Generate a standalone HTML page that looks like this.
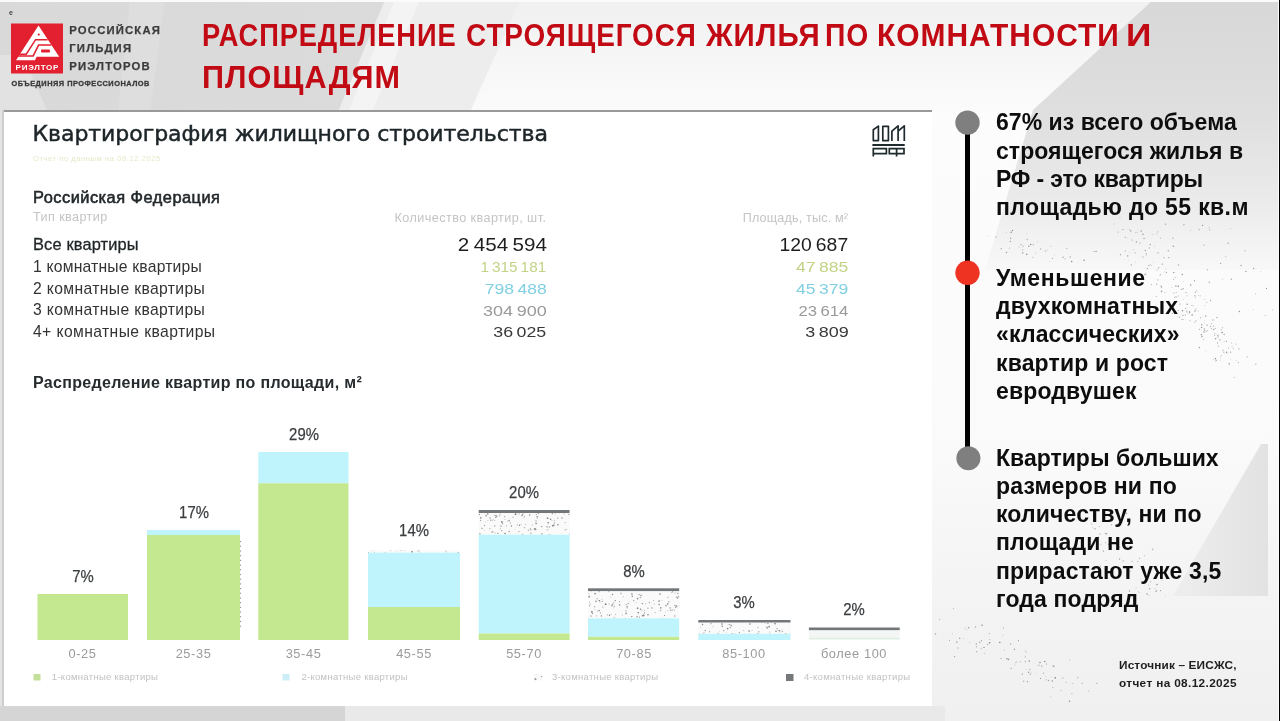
<!DOCTYPE html>
<html lang="ru">
<head>
<meta charset="utf-8">
<title>Распределение строящегося жилья по комнатности и площадям</title>
<style>
*{margin:0;padding:0;box-sizing:border-box}
html,body{width:1280px;height:721px;overflow:hidden;background:#e8e8e8}
body{position:relative;font-family:"Liberation Sans",sans-serif}
.a{position:absolute;white-space:nowrap}
svg{position:absolute;left:0;top:0;overflow:visible}
</style>
</head>
<body>
<svg width="1280" height="721" viewBox="0 0 1280 721">
<defs>
<linearGradient id="rg" x1="0" y1="0" x2="0" y2="270" gradientUnits="userSpaceOnUse">
<stop offset="0" stop-color="#d8d8d8"/><stop offset="0.4" stop-color="#dedede"/><stop offset="0.75" stop-color="#ebebeb"/><stop offset="1" stop-color="#f8f8f8"/>
</linearGradient>
<linearGradient id="tri" x1="1173" y1="0" x2="1268" y2="0" gradientUnits="userSpaceOnUse">
<stop offset="0" stop-color="#eeeeee"/><stop offset="1" stop-color="#e2e2e2"/>
</linearGradient>
<linearGradient id="pb" x1="0" y1="0" x2="0" y2="721" gradientUnits="userSpaceOnUse">
<stop offset="0" stop-color="#fdfdfd"/><stop offset="0.62" stop-color="#fafafa"/><stop offset="0.85" stop-color="#f3f3f3"/><stop offset="1" stop-color="#f0f0f0"/>
</linearGradient>
<linearGradient id="hm" x1="0" y1="0" x2="0" y2="112" gradientUnits="userSpaceOnUse">
<stop offset="0" stop-color="#f0f0f0"/><stop offset="0.5" stop-color="#f6f6f6"/><stop offset="1" stop-color="#fbfbfb"/>
</linearGradient>
<linearGradient id="lg" x1="0" y1="0" x2="385" y2="0" gradientUnits="userSpaceOnUse">
<stop offset="0" stop-color="#d9d9d9"/><stop offset="1" stop-color="#dbdbdb"/>
</linearGradient>
</defs>
<rect width="1280" height="721" fill="url(#pb)"/>
<rect width="1280" height="112" fill="url(#hm)"/>
<polygon points="385,0 520,0 470,112 338,112" fill="#ededed"/>
<polygon points="395,0 420,0 372,112 348,112" fill="#f4f4f4"/>
<polygon points="0,0 385,0 338,112 0,112" fill="url(#lg)"/>
<polygon points="0,55 22,55 48,112 0,112" fill="#e4e4e4" opacity="0.8"/>
<polygon points="130,0 165,0 150,112 118,112" fill="#dedede" opacity="0.8"/>
<polygon points="1153,0 1278,0 1278,270 985,270 1033,110" fill="url(#rg)"/>
<polygon points="1261,444 1268,444 1268,596 1173,596" fill="url(#tri)"/>
<rect x="0" y="706" width="345" height="15" fill="#d5d5d5"/>
<rect x="345" y="706" width="600" height="15" fill="#e9e9e9"/>
<rect x="0" y="110" width="2" height="596" fill="#e4e4e4"/><rect x="2" y="110" width="2" height="596" fill="#cecece"/>
<rect x="0" y="0" width="1280" height="2" fill="#fbfbfb"/>
<rect x="1278" y="0" width="1" height="721" fill="#fafafa"/>
<rect x="1279" y="0" width="1" height="721" fill="#000"/>
</svg>
<svg width="1280" height="100" viewBox="0 0 1280 100">
<rect x="11" y="23.5" width="52" height="50" fill="#e2202f"/>
<polygon points="38.5,25.6 59.2,56.8 36.6,56.8 35,60.2 16,60.2" fill="#fff"/>
<polyline points="47.6,39.7 35.6,39.7 26.2,54.2 18.6,54.2" stroke="#e2202f" stroke-width="1.5" fill="none"/>
<polyline points="51.3,45.1 38.6,45.1 33.2,55.9 17.6,55.9" stroke="#e2202f" stroke-width="1.5" fill="none"/>
<circle cx="38.8" cy="34.6" r="1.1" fill="#e2202f"/>
<rect x="41" y="49.6" width="9" height="2.9" rx="1" fill="#e2202f"/>
<text x="15.6" y="69.6" font-family="Liberation Sans, sans-serif" font-weight="bold" font-size="8" letter-spacing="0.75" fill="#fff">РИЭЛТОР</text>
<text x="9" y="14.5" font-family="Liberation Sans, sans-serif" font-weight="bold" font-size="7" fill="#444">е</text>
</svg>
<div class="a" style="top:25.04px;font:bold 11.3px/11.3px 'Liberation Sans',sans-serif;color:#3c3c3c;letter-spacing:1.17px;left:69.30px;-webkit-text-stroke:0.25px #3c3c3c;">РОССИЙСКАЯ</div>
<div class="a" style="top:42.94px;font:bold 11.3px/11.3px 'Liberation Sans',sans-serif;color:#3c3c3c;letter-spacing:1.17px;left:69.30px;-webkit-text-stroke:0.25px #3c3c3c;">ГИЛЬДИЯ</div>
<div class="a" style="top:60.94px;font:bold 11.3px/11.3px 'Liberation Sans',sans-serif;color:#3c3c3c;letter-spacing:1.17px;left:69.30px;-webkit-text-stroke:0.25px #3c3c3c;">РИЭЛТОРОВ</div>
<div class="a" style="top:79.54px;font:bold 7.4px/7.4px 'Liberation Sans',sans-serif;color:#3a3a3a;letter-spacing:0.49px;left:11.50px;-webkit-text-stroke:0.3px #3a3a3a;">ОБЪЕДИНЯЯ ПРОФЕССИОНАЛОВ</div>
<div class="a" style="top:19.97px;font:bold 31px/31px 'Liberation Sans',sans-serif;color:#c10a14;letter-spacing:1.0px;left:201.57px;transform:scaleX(0.8803);transform-origin:left center;">РАСПРЕДЕЛЕНИЕ</div>
<div class="a" style="top:19.97px;font:bold 31px/31px 'Liberation Sans',sans-serif;color:#c10a14;letter-spacing:1.0px;left:465.77px;transform:scaleX(0.9016);transform-origin:left center;">СТРОЯЩЕГОСЯ</div>
<div class="a" style="top:19.97px;font:bold 31px/31px 'Liberation Sans',sans-serif;color:#c10a14;letter-spacing:1.0px;left:705.97px;transform:scaleX(0.9515);transform-origin:left center;">ЖИЛЬЯ</div>
<div class="a" style="top:19.97px;font:bold 31px/31px 'Liberation Sans',sans-serif;color:#c10a14;letter-spacing:1.0px;left:825.37px;transform:scaleX(0.9137);transform-origin:left center;">ПО</div>
<div class="a" style="top:19.97px;font:bold 31px/31px 'Liberation Sans',sans-serif;color:#c10a14;letter-spacing:1.0px;left:877.37px;transform:scaleX(0.9657);transform-origin:left center;">КОМНАТНОСТИ</div>
<div class="a" style="top:19.97px;font:bold 31px/31px 'Liberation Sans',sans-serif;color:#c10a14;left:1125.77px;transform:scaleX(1.1395);transform-origin:left center;">И</div>
<div class="a" style="top:62.17px;font:bold 31px/31px 'Liberation Sans',sans-serif;color:#c10a14;letter-spacing:1.0px;left:201.57px;transform:scaleX(0.9876);transform-origin:left center;">ПЛОЩАДЯМ</div>
<div class="a" style="left:4px;top:110px;width:928px;height:596px;background:#fff;border-top:2px solid #9a9a9a"></div>
<div class="a" style="top:122.99px;font:normal 22px/22px 'DejaVu Sans','Liberation Sans',sans-serif;color:#1d2529;letter-spacing:-0.05px;left:32.50px;-webkit-text-stroke:0.5px #1d2529;">Квартирография жилищного строительства</div>
<div class="a" style="top:155.16px;font:normal 7.5px/7.5px 'Liberation Sans',sans-serif;color:#e6e8c6;letter-spacing:0.6px;left:33.00px;">Отчет по данным на 08.12.2025</div>
<svg width="1280" height="200" viewBox="0 0 1280 200">
<g fill="none" stroke="#1f2a2e" stroke-width="1.7" stroke-linejoin="round">
<path d="M873.3,140.6 V129.8 L878.4,126.1 V140.6 Z"/>
<path d="M882.8,140.6 V126.3 H888.4 V140.6 Z"/>
<path d="M891.9,141 V131.2 L898.1,125.9 V141 M898.1,131.2 L904.3,125.9 V141"/>
</g>
<rect x="872.4" y="144" width="32.3" height="2" fill="#1f2a2e"/>
<g fill="none" stroke="#1f2a2e" stroke-width="1.7">
<path d="M873.3,156.6 V148.6 H886.4 V153.6 H873.3"/>
<path d="M889.3,148.6 H904 V153.6 H889.3 Z M896.6,148.6 V156.6"/>
</g>
</svg>
<div class="a" style="top:188.53px;font:normal 16.4px/16.4px 'Liberation Sans',sans-serif;color:#23282b;letter-spacing:0.48px;left:33.00px;-webkit-text-stroke:0.55px #23282b;">Российская Федерация</div>
<div class="a" style="top:211.24px;font:normal 12.6px/12.6px 'Liberation Sans',sans-serif;color:#c4c4c4;letter-spacing:0.41px;left:33.00px;">Тип квартир</div>
<div class="a" style="top:211.74px;font:normal 12.6px/12.6px 'Liberation Sans',sans-serif;color:#c4c4c4;letter-spacing:0.44px;right:733.60px;">Количество квартир, шт.</div>
<div class="a" style="top:211.74px;font:normal 12.6px/12.6px 'Liberation Sans',sans-serif;color:#c4c4c4;letter-spacing:0.17px;right:431.80px;">Площадь, тыс. м²</div>
<div class="a" style="top:236.33px;font:normal 16.4px/16.4px 'Liberation Sans',sans-serif;color:#1f2427;letter-spacing:0.15px;left:33.00px;-webkit-text-stroke:0.3px #1f2427;">Все квартиры</div>
<div class="a" style="top:235.16px;font:normal 19.2px/19.2px 'Liberation Sans',sans-serif;color:#1e1e1e;right:733.34px;transform:scaleX(1.074);transform-origin:right center;word-spacing:-1.2px;">2 454 594</div>
<div class="a" style="top:235.16px;font:normal 19.2px/19.2px 'Liberation Sans',sans-serif;color:#1e1e1e;right:431.69px;transform:scaleX(1.009);transform-origin:right center;word-spacing:-1.2px;">120 687</div>
<div class="a" style="top:258.92px;font:normal 15.7px/15.7px 'Liberation Sans',sans-serif;color:#333;letter-spacing:0.2px;left:33.00px;">1 комнатные квартиры</div>
<div class="a" style="top:259.14px;font:normal 15.2px/15.2px 'Liberation Sans',sans-serif;color:#c2d385;right:733.39px;transform:scaleX(1.008);transform-origin:right center;word-spacing:-1.2px;">1 315 181</div>
<div class="a" style="top:259.14px;font:normal 15.2px/15.2px 'Liberation Sans',sans-serif;color:#c2d385;right:431.58px;transform:scaleX(1.153);transform-origin:right center;word-spacing:-1.2px;">47 885</div>
<div class="a" style="top:280.62px;font:normal 15.7px/15.7px 'Liberation Sans',sans-serif;color:#333;letter-spacing:0.36px;left:33.00px;">2 комнатные квартиры</div>
<div class="a" style="top:280.94px;font:normal 15.2px/15.2px 'Liberation Sans',sans-serif;color:#80d0e2;right:733.28px;transform:scaleX(1.154);transform-origin:right center;word-spacing:-1.2px;">798 488</div>
<div class="a" style="top:280.94px;font:normal 15.2px/15.2px 'Liberation Sans',sans-serif;color:#80d0e2;right:431.58px;transform:scaleX(1.153);transform-origin:right center;word-spacing:-1.2px;">45 379</div>
<div class="a" style="top:302.32px;font:normal 15.7px/15.7px 'Liberation Sans',sans-serif;color:#333;letter-spacing:0.36px;left:33.00px;">3 комнатные квартиры</div>
<div class="a" style="top:302.74px;font:normal 15.2px/15.2px 'Liberation Sans',sans-serif;color:#9a9a9a;right:733.25px;transform:scaleX(1.186);transform-origin:right center;word-spacing:-1.2px;">304 900</div>
<div class="a" style="top:302.74px;font:normal 15.2px/15.2px 'Liberation Sans',sans-serif;color:#9a9a9a;right:431.62px;transform:scaleX(1.1);transform-origin:right center;word-spacing:-1.2px;">23 614</div>
<div class="a" style="top:324.02px;font:normal 15.7px/15.7px 'Liberation Sans',sans-serif;color:#333;letter-spacing:0.4px;left:33.00px;">4+ комнатные квартиры</div>
<div class="a" style="top:324.44px;font:normal 15.2px/15.2px 'Liberation Sans',sans-serif;color:#383838;right:733.26px;transform:scaleX(1.17);transform-origin:right center;word-spacing:-1.2px;">36 025</div>
<div class="a" style="top:324.44px;font:normal 15.2px/15.2px 'Liberation Sans',sans-serif;color:#383838;right:431.55px;transform:scaleX(1.183);transform-origin:right center;word-spacing:-1.2px;">3 809</div>
<div class="a" style="top:374.66px;font:bold 16px/16px 'Liberation Sans',sans-serif;color:#262b2e;letter-spacing:0.33px;left:33.00px;">Распределение квартир по площади, м²</div>
<svg width="1280" height="721" viewBox="0 0 1280 721"><defs><pattern id="spk" width="90" height="30" patternUnits="userSpaceOnUse"><rect width="90" height="30" fill="#fafafa"/><circle cx="29.1" cy="4.5" r="0.74" fill="#7a7a7a"/><circle cx="73.9" cy="2.8" r="0.71" fill="#bbbbbb"/><circle cx="19.3" cy="2.6" r="0.64" fill="#8a8a8a"/><circle cx="8.2" cy="12.7" r="0.82" fill="#7a7a7a"/><circle cx="85.3" cy="18.9" r="0.71" fill="#7a7a7a"/><circle cx="51.9" cy="11.9" r="0.89" fill="#7a7a7a"/><circle cx="50.1" cy="4.0" r="0.64" fill="#bbbbbb"/><circle cx="10.6" cy="9.3" r="0.82" fill="#8a8a8a"/><circle cx="9.3" cy="17.1" r="0.53" fill="#7a7a7a"/><circle cx="49.3" cy="1.9" r="0.48" fill="#8a8a8a"/><circle cx="44.7" cy="16.0" r="0.80" fill="#aaaaaa"/><circle cx="52.7" cy="13.6" r="0.58" fill="#8a8a8a"/><circle cx="62.9" cy="7.3" r="0.71" fill="#bbbbbb"/><circle cx="44.6" cy="10.3" r="0.65" fill="#bbbbbb"/><circle cx="88.2" cy="3.5" r="0.64" fill="#9a9a9a"/><circle cx="13.7" cy="14.7" r="0.47" fill="#c8c8c8"/><circle cx="7.0" cy="16.7" r="0.81" fill="#9a9a9a"/><circle cx="30.6" cy="10.5" r="0.67" fill="#aaaaaa"/><circle cx="6.2" cy="2.8" r="0.57" fill="#c8c8c8"/><circle cx="59.8" cy="1.8" r="0.77" fill="#c8c8c8"/><circle cx="52.0" cy="20.4" r="0.65" fill="#c8c8c8"/><circle cx="34.7" cy="20.1" r="0.46" fill="#aaaaaa"/><circle cx="32.0" cy="18.3" r="0.67" fill="#8a8a8a"/><circle cx="69.1" cy="3.9" r="0.56" fill="#aaaaaa"/><circle cx="82.5" cy="14.9" r="0.52" fill="#aaaaaa"/><circle cx="49.4" cy="26.5" r="0.82" fill="#bbbbbb"/><circle cx="25.1" cy="12.5" r="0.61" fill="#aaaaaa"/><circle cx="86.2" cy="4.5" r="0.53" fill="#8a8a8a"/><circle cx="59.3" cy="0.4" r="0.82" fill="#8a8a8a"/><circle cx="23.6" cy="0.1" r="0.64" fill="#9a9a9a"/><circle cx="54.9" cy="9.6" r="0.51" fill="#bbbbbb"/><circle cx="85.5" cy="19.6" r="0.78" fill="#aaaaaa"/><circle cx="81.0" cy="23.4" r="0.84" fill="#bbbbbb"/><circle cx="35.3" cy="12.0" r="0.50" fill="#c8c8c8"/><circle cx="36.0" cy="5.7" r="0.89" fill="#aaaaaa"/><circle cx="14.6" cy="10.2" r="0.47" fill="#7a7a7a"/><circle cx="51.0" cy="16.1" r="0.88" fill="#bbbbbb"/><circle cx="2.3" cy="26.2" r="0.73" fill="#8a8a8a"/><circle cx="57.1" cy="28.7" r="0.72" fill="#aaaaaa"/><circle cx="11.1" cy="25.5" r="0.90" fill="#aaaaaa"/><circle cx="43.2" cy="9.4" r="0.51" fill="#c8c8c8"/><circle cx="30.8" cy="7.9" r="0.82" fill="#8a8a8a"/><circle cx="46.5" cy="6.2" r="0.88" fill="#9a9a9a"/><circle cx="13.2" cy="16.3" r="0.46" fill="#bbbbbb"/><circle cx="26.8" cy="19.3" r="0.49" fill="#9a9a9a"/><circle cx="46.7" cy="27.2" r="0.61" fill="#8a8a8a"/><circle cx="47.9" cy="23.4" r="0.60" fill="#8a8a8a"/><circle cx="55.2" cy="23.7" r="0.79" fill="#8a8a8a"/><circle cx="72.5" cy="24.5" r="0.78" fill="#8a8a8a"/><circle cx="18.0" cy="14.8" r="0.78" fill="#7a7a7a"/><circle cx="71.1" cy="14.2" r="0.54" fill="#bbbbbb"/><circle cx="86.1" cy="13.4" r="0.87" fill="#9a9a9a"/><circle cx="86.0" cy="10.9" r="0.55" fill="#8a8a8a"/><circle cx="42.3" cy="10.1" r="0.67" fill="#bbbbbb"/><circle cx="75.6" cy="14.4" r="0.74" fill="#c8c8c8"/><circle cx="7.6" cy="19.8" r="0.86" fill="#c8c8c8"/><circle cx="67.5" cy="14.3" r="0.53" fill="#c8c8c8"/><circle cx="29.9" cy="24.0" r="0.89" fill="#aaaaaa"/><circle cx="41.7" cy="22.3" r="0.49" fill="#8a8a8a"/><circle cx="15.3" cy="3.8" r="0.52" fill="#aaaaaa"/><circle cx="72.6" cy="4.4" r="0.82" fill="#aaaaaa"/><circle cx="59.2" cy="10.5" r="0.70" fill="#8a8a8a"/><circle cx="1.9" cy="24.0" r="0.78" fill="#7a7a7a"/><circle cx="47.4" cy="28.0" r="0.65" fill="#8a8a8a"/><circle cx="74.4" cy="6.3" r="0.56" fill="#9a9a9a"/><circle cx="45.1" cy="22.9" r="0.60" fill="#bbbbbb"/><circle cx="37.7" cy="3.9" r="0.86" fill="#9a9a9a"/><circle cx="80.8" cy="19.9" r="0.82" fill="#bbbbbb"/><circle cx="37.9" cy="27.5" r="0.68" fill="#bbbbbb"/><circle cx="13.7" cy="15.3" r="0.84" fill="#8a8a8a"/><circle cx="54.8" cy="23.3" r="0.52" fill="#8a8a8a"/><circle cx="42.6" cy="21.8" r="0.70" fill="#9a9a9a"/><circle cx="61.4" cy="15.9" r="0.67" fill="#7a7a7a"/><circle cx="79.5" cy="1.7" r="0.54" fill="#7a7a7a"/><circle cx="69.5" cy="15.2" r="0.70" fill="#7a7a7a"/><circle cx="39.9" cy="18.4" r="0.68" fill="#bbbbbb"/><circle cx="17.9" cy="8.3" r="0.68" fill="#aaaaaa"/><circle cx="45.7" cy="7.4" r="0.69" fill="#9a9a9a"/><circle cx="83.1" cy="26.8" r="0.54" fill="#aaaaaa"/><circle cx="12.3" cy="3.6" r="0.65" fill="#7a7a7a"/><circle cx="60.4" cy="12.9" r="0.55" fill="#9a9a9a"/><circle cx="70.6" cy="26.9" r="0.52" fill="#c8c8c8"/><circle cx="57.9" cy="11.0" r="0.56" fill="#8a8a8a"/><circle cx="87.1" cy="6.6" r="0.88" fill="#aaaaaa"/><circle cx="79.6" cy="4.9" r="0.75" fill="#8a8a8a"/><circle cx="14.5" cy="12.9" r="0.68" fill="#9a9a9a"/><circle cx="37.9" cy="10.7" r="0.49" fill="#9a9a9a"/><circle cx="1.8" cy="16.6" r="0.65" fill="#7a7a7a"/><circle cx="34.6" cy="15.5" r="0.58" fill="#7a7a7a"/><circle cx="10.2" cy="27.6" r="0.55" fill="#7a7a7a"/><circle cx="7.6" cy="8.2" r="0.86" fill="#8a8a8a"/><circle cx="24.3" cy="3.9" r="0.64" fill="#c8c8c8"/><circle cx="73.7" cy="7.8" r="0.52" fill="#bbbbbb"/><circle cx="51.4" cy="21.0" r="0.49" fill="#7a7a7a"/><circle cx="72.0" cy="5.5" r="0.85" fill="#9a9a9a"/><circle cx="84.5" cy="19.0" r="0.81" fill="#7a7a7a"/><circle cx="54.7" cy="6.7" r="0.57" fill="#7a7a7a"/><circle cx="40.8" cy="10.2" r="0.70" fill="#9a9a9a"/><circle cx="56.0" cy="1.3" r="0.77" fill="#7a7a7a"/><circle cx="87.2" cy="7.9" r="0.53" fill="#9a9a9a"/><circle cx="56.6" cy="15.9" r="0.54" fill="#aaaaaa"/><circle cx="45.0" cy="5.3" r="0.61" fill="#7a7a7a"/><circle cx="89.5" cy="1.1" r="0.46" fill="#bbbbbb"/><circle cx="49.6" cy="5.7" r="0.66" fill="#aaaaaa"/><circle cx="9.6" cy="24.6" r="0.64" fill="#aaaaaa"/><circle cx="49.1" cy="26.7" r="0.89" fill="#9a9a9a"/><circle cx="61.9" cy="29.5" r="0.60" fill="#c8c8c8"/><circle cx="65.6" cy="4.2" r="0.90" fill="#7a7a7a"/><circle cx="75.3" cy="0.4" r="0.73" fill="#9a9a9a"/><circle cx="38.8" cy="1.7" r="0.75" fill="#aaaaaa"/><circle cx="78.3" cy="20.1" r="0.58" fill="#8a8a8a"/><circle cx="62.3" cy="1.4" r="0.53" fill="#9a9a9a"/><circle cx="40.1" cy="7.9" r="0.88" fill="#bbbbbb"/><circle cx="29.1" cy="1.0" r="0.85" fill="#8a8a8a"/><circle cx="32.1" cy="0.0" r="0.62" fill="#aaaaaa"/><circle cx="25.1" cy="19.7" r="0.56" fill="#7a7a7a"/><circle cx="8.2" cy="24.5" r="0.51" fill="#bbbbbb"/><circle cx="3.8" cy="0.7" r="0.59" fill="#8a8a8a"/><circle cx="7.6" cy="28.7" r="0.83" fill="#8a8a8a"/><circle cx="59.2" cy="21.5" r="0.85" fill="#aaaaaa"/><circle cx="68.8" cy="21.6" r="0.67" fill="#9a9a9a"/><circle cx="65.2" cy="19.3" r="0.47" fill="#c8c8c8"/><circle cx="80.3" cy="18.8" r="0.78" fill="#bbbbbb"/><circle cx="12.5" cy="15.7" r="0.68" fill="#7a7a7a"/><circle cx="74.4" cy="17.5" r="0.85" fill="#c8c8c8"/><circle cx="86.0" cy="19.3" r="0.49" fill="#7a7a7a"/><circle cx="12.0" cy="10.8" r="0.50" fill="#aaaaaa"/><circle cx="50.3" cy="18.8" r="0.73" fill="#c8c8c8"/><circle cx="22.0" cy="7.9" r="0.66" fill="#7a7a7a"/><circle cx="67.3" cy="15.1" r="0.69" fill="#c8c8c8"/></pattern></defs><rect x="37.5" y="594" width="90.5" height="46.0" fill="#c3e88f"/><rect x="147" y="530" width="93.0" height="5.0" fill="#c0f4fd"/><rect x="147" y="535" width="93.0" height="105.0" fill="#c3e88f"/><rect x="258.3" y="452" width="90.2" height="31.3" fill="#c0f4fd"/><rect x="258.3" y="483.3" width="90.2" height="156.7" fill="#c3e88f"/><rect x="368" y="550.5" width="92.0" height="2.2" fill="url(#spk)"/><rect x="368" y="552.7" width="92.0" height="54.3" fill="#c0f4fd"/><rect x="368" y="607" width="92.0" height="33.0" fill="#c3e88f"/><rect x="478.7" y="510" width="90.9" height="3.0" fill="#737779"/><rect x="478.7" y="513" width="90.9" height="21.7" fill="url(#spk)"/><rect x="478.7" y="534.7" width="90.9" height="98.8" fill="#c0f4fd"/><rect x="478.7" y="633.5" width="90.9" height="6.5" fill="#c3e88f"/><rect x="588" y="588.3" width="91.2" height="3.0" fill="#737779"/><rect x="588" y="591.3" width="91.2" height="27.0" fill="url(#spk)"/><rect x="588" y="618.3" width="91.2" height="18.5" fill="#c0f4fd"/><rect x="588" y="636.8" width="91.2" height="3.2" fill="#c3e88f"/><rect x="698.3" y="620" width="92.2" height="2.7" fill="#737779"/><rect x="698.3" y="622.7" width="92.2" height="11.1" fill="url(#spk)"/><rect x="698.3" y="633.8" width="92.2" height="6.2" fill="#c0f4fd"/><rect x="808.9" y="627.5" width="90.8" height="2.9" fill="#737779"/><rect x="808.9" y="630.4" width="90.8" height="7.4" fill="#f4f6f6"/><rect x="808.9" y="637.8" width="90.8" height="1.2" fill="#dcefe0"/><rect x="808.9" y="639" width="90.8" height="1.0" fill="#eef6ef"/><line x1="240.6" y1="541" x2="240.6" y2="628" stroke="#8c8c8c" stroke-width="1" stroke-dasharray="1.2 3.5"/><rect x="33.5" y="674" width="7" height="6.5" fill="#c3e09a"/><rect x="282.5" y="674" width="7" height="6.5" fill="#cdeef8"/><rect x="534.5" y="674" width="8" height="6.5" fill="url(#spk)"/><rect x="786" y="674" width="7.5" height="7" fill="#75797b"/></svg>
<div class="a" style="top:569.16px;font:normal 16px/16px 'Liberation Sans',sans-serif;color:#3b3e40;left:83.00px;transform:translateX(-50%) scaleX(0.93);-webkit-text-stroke:0.25px #3b3e40;">7%</div>
<div class="a" style="top:505.26px;font:normal 16px/16px 'Liberation Sans',sans-serif;color:#3b3e40;left:193.60px;transform:translateX(-50%) scaleX(0.93);-webkit-text-stroke:0.25px #3b3e40;">17%</div>
<div class="a" style="top:426.66px;font:normal 16px/16px 'Liberation Sans',sans-serif;color:#3b3e40;left:303.50px;transform:translateX(-50%) scaleX(0.93);-webkit-text-stroke:0.25px #3b3e40;">29%</div>
<div class="a" style="top:522.96px;font:normal 16px/16px 'Liberation Sans',sans-serif;color:#3b3e40;left:413.50px;transform:translateX(-50%) scaleX(0.93);-webkit-text-stroke:0.25px #3b3e40;">14%</div>
<div class="a" style="top:485.26px;font:normal 16px/16px 'Liberation Sans',sans-serif;color:#3b3e40;left:524.00px;transform:translateX(-50%) scaleX(0.93);-webkit-text-stroke:0.25px #3b3e40;">20%</div>
<div class="a" style="top:564.26px;font:normal 16px/16px 'Liberation Sans',sans-serif;color:#3b3e40;left:634.00px;transform:translateX(-50%) scaleX(0.93);-webkit-text-stroke:0.25px #3b3e40;">8%</div>
<div class="a" style="top:594.76px;font:normal 16px/16px 'Liberation Sans',sans-serif;color:#3b3e40;left:744.40px;transform:translateX(-50%) scaleX(0.93);-webkit-text-stroke:0.25px #3b3e40;">3%</div>
<div class="a" style="top:601.86px;font:normal 16px/16px 'Liberation Sans',sans-serif;color:#3b3e40;left:854.40px;transform:translateX(-50%) scaleX(0.93);-webkit-text-stroke:0.25px #3b3e40;">2%</div>
<div class="a" style="top:647.87px;font:normal 12.8px/12.8px 'Liberation Sans',sans-serif;color:#9b9b9b;left:82.50px;transform:translateX(-50%);letter-spacing:0.6px;">0-25</div>
<div class="a" style="top:647.87px;font:normal 12.8px/12.8px 'Liberation Sans',sans-serif;color:#9b9b9b;left:193.50px;transform:translateX(-50%);letter-spacing:0.6px;">25-35</div>
<div class="a" style="top:647.87px;font:normal 12.8px/12.8px 'Liberation Sans',sans-serif;color:#9b9b9b;left:303.50px;transform:translateX(-50%);letter-spacing:0.6px;">35-45</div>
<div class="a" style="top:647.87px;font:normal 12.8px/12.8px 'Liberation Sans',sans-serif;color:#9b9b9b;left:414.00px;transform:translateX(-50%);letter-spacing:0.6px;">45-55</div>
<div class="a" style="top:647.87px;font:normal 12.8px/12.8px 'Liberation Sans',sans-serif;color:#9b9b9b;left:524.00px;transform:translateX(-50%);letter-spacing:0.6px;">55-70</div>
<div class="a" style="top:647.87px;font:normal 12.8px/12.8px 'Liberation Sans',sans-serif;color:#9b9b9b;left:634.00px;transform:translateX(-50%);letter-spacing:0.6px;">70-85</div>
<div class="a" style="top:647.87px;font:normal 12.8px/12.8px 'Liberation Sans',sans-serif;color:#9b9b9b;left:744.00px;transform:translateX(-50%);letter-spacing:0.6px;">85-100</div>
<div class="a" style="top:647.87px;font:normal 12.8px/12.8px 'Liberation Sans',sans-serif;color:#9b9b9b;left:854.00px;transform:translateX(-50%);letter-spacing:0.6px;">более 100</div>
<div class="a" style="top:672.36px;font:normal 9.5px/9.5px 'Liberation Sans',sans-serif;color:#c2c2c2;letter-spacing:0.3px;left:51.80px;">1-комнатные квартиры</div>
<div class="a" style="top:672.36px;font:normal 9.5px/9.5px 'Liberation Sans',sans-serif;color:#c2c2c2;letter-spacing:0.3px;left:301.40px;">2-комнатные квартиры</div>
<div class="a" style="top:672.36px;font:normal 9.5px/9.5px 'Liberation Sans',sans-serif;color:#c2c2c2;letter-spacing:0.3px;left:552.00px;">3-комнатные квартиры</div>
<div class="a" style="top:672.36px;font:normal 9.5px/9.5px 'Liberation Sans',sans-serif;color:#c2c2c2;letter-spacing:0.3px;left:804.00px;">4-комнатные квартиры</div>
<svg width="1280" height="721" viewBox="0 0 1280 721"><circle cx="1151.5" cy="284.5" r="0.55" fill="#aaaaaa"/><circle cx="1161.6" cy="291.4" r="0.78" fill="#9a9a9a"/><circle cx="1129.8" cy="252.6" r="0.42" fill="#b8b8b8"/><circle cx="1220.0" cy="339.8" r="0.63" fill="#8a8a8a"/><circle cx="1141.2" cy="231.0" r="0.69" fill="#9a9a9a"/><circle cx="1157.9" cy="231.8" r="0.59" fill="#b8b8b8"/><circle cx="1192.1" cy="315.0" r="0.77" fill="#9a9a9a"/><circle cx="1122.9" cy="229.6" r="0.55" fill="#8a8a8a"/><circle cx="1146.1" cy="255.7" r="0.49" fill="#aaaaaa"/><circle cx="1156.3" cy="296.2" r="0.50" fill="#9a9a9a"/><circle cx="1173.9" cy="293.1" r="0.59" fill="#b8b8b8"/><circle cx="1189.3" cy="320.2" r="0.49" fill="#b8b8b8"/><circle cx="1255.8" cy="364.3" r="0.70" fill="#b8b8b8"/><circle cx="1199.7" cy="329.3" r="0.58" fill="#9a9a9a"/><circle cx="1173.8" cy="272.4" r="0.75" fill="#9a9a9a"/><circle cx="1175.2" cy="277.5" r="0.62" fill="#b8b8b8"/><circle cx="1230.6" cy="359.1" r="0.43" fill="#aaaaaa"/><circle cx="1158.5" cy="252.8" r="0.55" fill="#aaaaaa"/><circle cx="1229.4" cy="363.9" r="0.65" fill="#9a9a9a"/><circle cx="1195.8" cy="309.1" r="0.70" fill="#b8b8b8"/><circle cx="1120.5" cy="254.7" r="0.63" fill="#9a9a9a"/><circle cx="1214.5" cy="335.2" r="0.51" fill="#aaaaaa"/><circle cx="1154.4" cy="246.2" r="0.42" fill="#aaaaaa"/><circle cx="1133.4" cy="249.7" r="0.45" fill="#9a9a9a"/><circle cx="1145.3" cy="250.6" r="0.69" fill="#8a8a8a"/><circle cx="1204.4" cy="320.8" r="0.41" fill="#aaaaaa"/><circle cx="1144.8" cy="274.6" r="0.74" fill="#b8b8b8"/><circle cx="1205.7" cy="351.0" r="0.43" fill="#b8b8b8"/><circle cx="1131.2" cy="264.9" r="0.53" fill="#8a8a8a"/><circle cx="1222.4" cy="327.7" r="0.52" fill="#9a9a9a"/><circle cx="1147.5" cy="268.6" r="0.60" fill="#9a9a9a"/><circle cx="1160.0" cy="275.5" r="0.46" fill="#9a9a9a"/><circle cx="1127.8" cy="237.9" r="0.41" fill="#aaaaaa"/><circle cx="1182.8" cy="315.6" r="0.56" fill="#b8b8b8"/><circle cx="1216.2" cy="360.3" r="0.62" fill="#9a9a9a"/><circle cx="1222.9" cy="350.2" r="0.61" fill="#aaaaaa"/><circle cx="1228.4" cy="347.9" r="0.53" fill="#b8b8b8"/><circle cx="1144.1" cy="238.4" r="0.67" fill="#9a9a9a"/><circle cx="1168.3" cy="250.7" r="0.75" fill="#aaaaaa"/><circle cx="1186.9" cy="312.1" r="0.61" fill="#b8b8b8"/><circle cx="1137.2" cy="232.2" r="0.56" fill="#b8b8b8"/><circle cx="1201.6" cy="336.8" r="0.61" fill="#aaaaaa"/><circle cx="1188.8" cy="313.7" r="0.49" fill="#aaaaaa"/><circle cx="1211.4" cy="328.7" r="0.55" fill="#9a9a9a"/><circle cx="1195.6" cy="297.3" r="0.46" fill="#8a8a8a"/><circle cx="1162.3" cy="264.2" r="0.70" fill="#b8b8b8"/><circle cx="1125.4" cy="237.4" r="0.63" fill="#aaaaaa"/><circle cx="1136.4" cy="241.9" r="0.66" fill="#8a8a8a"/><circle cx="1195.0" cy="311.0" r="0.77" fill="#9a9a9a"/><circle cx="1239.0" cy="348.9" r="0.62" fill="#aaaaaa"/><circle cx="1195.8" cy="320.9" r="0.67" fill="#aaaaaa"/><circle cx="1152.9" cy="234.4" r="0.49" fill="#aaaaaa"/><circle cx="1204.3" cy="323.7" r="0.44" fill="#b8b8b8"/><circle cx="1177.3" cy="316.3" r="0.45" fill="#b8b8b8"/><circle cx="1164.4" cy="271.7" r="0.42" fill="#b8b8b8"/><circle cx="1183.1" cy="288.7" r="0.77" fill="#aaaaaa"/><circle cx="1200.5" cy="317.8" r="0.60" fill="#aaaaaa"/><circle cx="1215.7" cy="361.4" r="0.49" fill="#b8b8b8"/><circle cx="1232.0" cy="346.4" r="0.48" fill="#9a9a9a"/><circle cx="1221.3" cy="329.8" r="0.54" fill="#9a9a9a"/><circle cx="1183.0" cy="319.5" r="0.61" fill="#aaaaaa"/><circle cx="1205.7" cy="316.0" r="0.76" fill="#9a9a9a"/><circle cx="1247.2" cy="356.8" r="0.59" fill="#aaaaaa"/><circle cx="1166.4" cy="272.5" r="0.68" fill="#aaaaaa"/><circle cx="1175.9" cy="286.0" r="0.68" fill="#8a8a8a"/><circle cx="1222.2" cy="332.4" r="0.76" fill="#8a8a8a"/><circle cx="1180.0" cy="304.0" r="0.55" fill="#8a8a8a"/><circle cx="1161.1" cy="286.3" r="0.76" fill="#aaaaaa"/><circle cx="1162.4" cy="263.4" r="0.42" fill="#b8b8b8"/><circle cx="1201.6" cy="324.8" r="0.74" fill="#aaaaaa"/><circle cx="1218.3" cy="346.1" r="0.59" fill="#aaaaaa"/><circle cx="1215.5" cy="358.8" r="0.75" fill="#8a8a8a"/><circle cx="1128.8" cy="260.2" r="0.41" fill="#aaaaaa"/><circle cx="1233.5" cy="348.8" r="0.53" fill="#aaaaaa"/><circle cx="1186.7" cy="311.1" r="0.63" fill="#aaaaaa"/><circle cx="1190.7" cy="285.1" r="0.73" fill="#9a9a9a"/><circle cx="1211.7" cy="323.8" r="0.66" fill="#b8b8b8"/><circle cx="1135.2" cy="252.8" r="0.65" fill="#aaaaaa"/><circle cx="1135.3" cy="262.1" r="0.41" fill="#9a9a9a"/><circle cx="1170.9" cy="307.2" r="0.71" fill="#8a8a8a"/><circle cx="1228.9" cy="363.3" r="0.65" fill="#b8b8b8"/><circle cx="1130.7" cy="230.9" r="0.65" fill="#8a8a8a"/><circle cx="1194.4" cy="322.6" r="0.51" fill="#b8b8b8"/><circle cx="1218.0" cy="336.9" r="0.75" fill="#b8b8b8"/><circle cx="1195.5" cy="292.2" r="0.79" fill="#b8b8b8"/><circle cx="1153.3" cy="262.1" r="0.42" fill="#9a9a9a"/><circle cx="1179.6" cy="317.3" r="0.67" fill="#aaaaaa"/><circle cx="1206.8" cy="302.2" r="0.52" fill="#aaaaaa"/><circle cx="1204.2" cy="328.9" r="0.59" fill="#8a8a8a"/><circle cx="1157.1" cy="253.0" r="0.46" fill="#9a9a9a"/><circle cx="1207.3" cy="330.6" r="0.51" fill="#aaaaaa"/><circle cx="1158.7" cy="267.8" r="0.67" fill="#9a9a9a"/><circle cx="1193.0" cy="305.6" r="0.61" fill="#b8b8b8"/><circle cx="1216.0" cy="334.9" r="0.40" fill="#b8b8b8"/><circle cx="1226.6" cy="352.3" r="0.74" fill="#8a8a8a"/><circle cx="1157.9" cy="279.9" r="0.65" fill="#aaaaaa"/><circle cx="1145.9" cy="273.9" r="0.51" fill="#8a8a8a"/><circle cx="1224.2" cy="334.6" r="0.75" fill="#aaaaaa"/><circle cx="1201.6" cy="327.4" r="0.72" fill="#9a9a9a"/><circle cx="1204.0" cy="332.0" r="0.68" fill="#9a9a9a"/><circle cx="1173.4" cy="246.3" r="0.79" fill="#9a9a9a"/><circle cx="1213.6" cy="359.2" r="0.46" fill="#b8b8b8"/><circle cx="1178.5" cy="264.9" r="0.72" fill="#aaaaaa"/><circle cx="1173.6" cy="279.3" r="0.55" fill="#aaaaaa"/><circle cx="1187.0" cy="295.8" r="0.55" fill="#b8b8b8"/><circle cx="1129.6" cy="229.7" r="0.49" fill="#9a9a9a"/><circle cx="1217.6" cy="342.9" r="0.54" fill="#9a9a9a"/><circle cx="1215.6" cy="338.8" r="0.77" fill="#9a9a9a"/><circle cx="1178.3" cy="286.3" r="0.75" fill="#8a8a8a"/><circle cx="1212.9" cy="319.9" r="0.73" fill="#aaaaaa"/><circle cx="1236.1" cy="360.4" r="0.45" fill="#b8b8b8"/><circle cx="1178.5" cy="310.5" r="0.60" fill="#b8b8b8"/><circle cx="1174.3" cy="313.7" r="0.42" fill="#b8b8b8"/><circle cx="1182.5" cy="310.7" r="0.75" fill="#8a8a8a"/><circle cx="1224.1" cy="341.2" r="0.54" fill="#b8b8b8"/><circle cx="1231.7" cy="343.0" r="0.60" fill="#b8b8b8"/><circle cx="1192.2" cy="314.3" r="0.50" fill="#aaaaaa"/><circle cx="1178.3" cy="296.0" r="0.55" fill="#aaaaaa"/><circle cx="1220.6" cy="360.1" r="0.47" fill="#9a9a9a"/><circle cx="1201.3" cy="334.8" r="0.74" fill="#9a9a9a"/><circle cx="1213.5" cy="326.0" r="0.63" fill="#b8b8b8"/><circle cx="1194.5" cy="280.7" r="0.66" fill="#9a9a9a"/><circle cx="1149.0" cy="265.5" r="0.65" fill="#aaaaaa"/><circle cx="1182.2" cy="274.4" r="0.72" fill="#9a9a9a"/><circle cx="1174.5" cy="297.2" r="0.48" fill="#aaaaaa"/><circle cx="1198.1" cy="311.1" r="0.49" fill="#9a9a9a"/><circle cx="1217.9" cy="335.4" r="0.79" fill="#b8b8b8"/><circle cx="1146.3" cy="253.8" r="0.63" fill="#9a9a9a"/><circle cx="1160.3" cy="274.6" r="0.51" fill="#aaaaaa"/><circle cx="1214.8" cy="333.6" r="0.57" fill="#b8b8b8"/><circle cx="1156.9" cy="270.0" r="0.55" fill="#9a9a9a"/><circle cx="1165.0" cy="292.6" r="0.42" fill="#8a8a8a"/><circle cx="1187.2" cy="304.3" r="0.75" fill="#9a9a9a"/><circle cx="1185.7" cy="308.3" r="0.51" fill="#8a8a8a"/><circle cx="1202.1" cy="336.2" r="0.56" fill="#8a8a8a"/><circle cx="1149.4" cy="247.9" r="0.73" fill="#b8b8b8"/><circle cx="1220.4" cy="356.9" r="0.47" fill="#8a8a8a"/><circle cx="1234.3" cy="377.6" r="0.52" fill="#aaaaaa"/><circle cx="1228.1" cy="353.2" r="0.49" fill="#b8b8b8"/><circle cx="1204.6" cy="330.5" r="0.71" fill="#b8b8b8"/><circle cx="1199.4" cy="347.5" r="0.67" fill="#9a9a9a"/><circle cx="1125.2" cy="251.0" r="0.62" fill="#9a9a9a"/><circle cx="1132.0" cy="240.0" r="0.58" fill="#8a8a8a"/><circle cx="1230.6" cy="352.2" r="0.62" fill="#aaaaaa"/><circle cx="1181.3" cy="289.5" r="0.75" fill="#b8b8b8"/><circle cx="1202.0" cy="324.3" r="0.45" fill="#aaaaaa"/><circle cx="1150.2" cy="244.5" r="0.75" fill="#aaaaaa"/><circle cx="1176.0" cy="297.0" r="0.63" fill="#9a9a9a"/><circle cx="1151.3" cy="265.4" r="0.51" fill="#b8b8b8"/><circle cx="1238.3" cy="362.4" r="0.51" fill="#9a9a9a"/><circle cx="1143.5" cy="234.3" r="0.43" fill="#9a9a9a"/><circle cx="1203.4" cy="339.3" r="0.55" fill="#aaaaaa"/><circle cx="1168.2" cy="302.4" r="0.62" fill="#9a9a9a"/><circle cx="1120.0" cy="217.7" r="0.43" fill="#aaaaaa"/><circle cx="1127.7" cy="255.9" r="0.67" fill="#8a8a8a"/><circle cx="1171.8" cy="287.3" r="0.47" fill="#b8b8b8"/><circle cx="1204.5" cy="299.6" r="0.46" fill="#9a9a9a"/><circle cx="1207.1" cy="325.3" r="0.80" fill="#b8b8b8"/><circle cx="1181.9" cy="319.3" r="0.59" fill="#b8b8b8"/><circle cx="1200.2" cy="295.8" r="0.54" fill="#b8b8b8"/><circle cx="1168.8" cy="257.6" r="0.62" fill="#9a9a9a"/><circle cx="1215.0" cy="328.4" r="0.62" fill="#aaaaaa"/><circle cx="1236.0" cy="343.9" r="0.51" fill="#aaaaaa"/><circle cx="1210.5" cy="326.4" r="0.75" fill="#b8b8b8"/><circle cx="1213.6" cy="329.6" r="0.63" fill="#8a8a8a"/><circle cx="1186.9" cy="292.6" r="0.47" fill="#8a8a8a"/><circle cx="1189.6" cy="312.1" r="0.78" fill="#8a8a8a"/><circle cx="1223.9" cy="352.2" r="0.67" fill="#aaaaaa"/><circle cx="1185.3" cy="314.9" r="0.54" fill="#aaaaaa"/><circle cx="1183.6" cy="281.4" r="0.43" fill="#b8b8b8"/><circle cx="1204.4" cy="305.7" r="0.40" fill="#9a9a9a"/><circle cx="1114.0" cy="224.0" r="0.43" fill="#aaaaaa"/><circle cx="1150.3" cy="264.4" r="0.40" fill="#aaaaaa"/><circle cx="1142.9" cy="256.9" r="0.72" fill="#b8b8b8"/><circle cx="1164.1" cy="257.7" r="0.56" fill="#8a8a8a"/><circle cx="1194.8" cy="295.8" r="0.77" fill="#b8b8b8"/><circle cx="1221.5" cy="355.2" r="0.56" fill="#b8b8b8"/><circle cx="1118.2" cy="232.0" r="0.50" fill="#8a8a8a"/><circle cx="1135.8" cy="232.5" r="0.40" fill="#9a9a9a"/><circle cx="1183.2" cy="299.4" r="0.49" fill="#b8b8b8"/><circle cx="1217.0" cy="317.5" r="0.69" fill="#aaaaaa"/><circle cx="1156.6" cy="284.1" r="0.72" fill="#aaaaaa"/><circle cx="1161.6" cy="287.5" r="0.65" fill="#b8b8b8"/><circle cx="1183.0" cy="315.1" r="0.54" fill="#aaaaaa"/><circle cx="1165.8" cy="269.0" r="0.43" fill="#aaaaaa"/><circle cx="1139.9" cy="243.1" r="0.64" fill="#aaaaaa"/><circle cx="1182.5" cy="274.8" r="0.53" fill="#9a9a9a"/><circle cx="1156.9" cy="233.8" r="0.48" fill="#9a9a9a"/><circle cx="1142.7" cy="234.2" r="0.62" fill="#9a9a9a"/><circle cx="1185.6" cy="292.6" r="0.47" fill="#8a8a8a"/><circle cx="1198.8" cy="295.6" r="0.46" fill="#aaaaaa"/><circle cx="1196.6" cy="290.6" r="0.54" fill="#b8b8b8"/><circle cx="1202.9" cy="316.8" r="0.41" fill="#b8b8b8"/><circle cx="1176.2" cy="292.5" r="0.60" fill="#b8b8b8"/><circle cx="1191.5" cy="305.4" r="0.44" fill="#9a9a9a"/><circle cx="1190.2" cy="320.9" r="0.41" fill="#9a9a9a"/><circle cx="1172.3" cy="313.3" r="0.53" fill="#8a8a8a"/><circle cx="1210.5" cy="300.5" r="0.63" fill="#aaaaaa"/><circle cx="1206.2" cy="331.8" r="0.57" fill="#9a9a9a"/><circle cx="1226.5" cy="341.3" r="0.60" fill="#9a9a9a"/><circle cx="1026.7" cy="254.2" r="0.73" fill="#8a8a8a"/><circle cx="1033.3" cy="244.7" r="0.67" fill="#aaaaaa"/><circle cx="1063.1" cy="257.3" r="0.75" fill="#aaaaaa"/><circle cx="1096.1" cy="251.4" r="0.61" fill="#8a8a8a"/><circle cx="1010.5" cy="240.6" r="0.46" fill="#b8b8b8"/><circle cx="1030.7" cy="244.6" r="0.76" fill="#8a8a8a"/><circle cx="1047.2" cy="250.0" r="0.48" fill="#aaaaaa"/><circle cx="1040.7" cy="248.9" r="0.76" fill="#b8b8b8"/><circle cx="1023.0" cy="246.0" r="0.60" fill="#8a8a8a"/><circle cx="1026.9" cy="233.4" r="0.45" fill="#b8b8b8"/><circle cx="1019.2" cy="247.0" r="0.57" fill="#b8b8b8"/><circle cx="1050.7" cy="246.3" r="0.57" fill="#b8b8b8"/><circle cx="1033.0" cy="257.4" r="0.60" fill="#b8b8b8"/><circle cx="1012.4" cy="230.5" r="0.64" fill="#8a8a8a"/><circle cx="1010.2" cy="241.5" r="0.61" fill="#8a8a8a"/><circle cx="1065.0" cy="258.9" r="0.61" fill="#b8b8b8"/><circle cx="1010.6" cy="238.2" r="0.58" fill="#8a8a8a"/><circle cx="996.0" cy="236.9" r="0.64" fill="#aaaaaa"/><circle cx="1049.6" cy="261.6" r="0.46" fill="#b8b8b8"/><circle cx="1009.5" cy="248.1" r="0.53" fill="#aaaaaa"/><circle cx="1001.2" cy="248.7" r="0.70" fill="#aaaaaa"/><circle cx="1054.4" cy="255.1" r="0.48" fill="#b8b8b8"/><circle cx="1027.2" cy="239.5" r="0.80" fill="#b8b8b8"/><circle cx="1006.1" cy="232.8" r="0.42" fill="#9a9a9a"/><circle cx="1094.0" cy="251.5" r="0.70" fill="#b8b8b8"/><circle cx="1037.8" cy="241.9" r="0.44" fill="#9a9a9a"/><circle cx="1006.5" cy="252.6" r="0.74" fill="#9a9a9a"/><circle cx="1071.7" cy="261.6" r="0.73" fill="#8a8a8a"/><circle cx="1022.7" cy="249.9" r="0.60" fill="#aaaaaa"/><circle cx="1035.4" cy="253.0" r="0.43" fill="#8a8a8a"/><circle cx="1045.4" cy="251.1" r="0.68" fill="#aaaaaa"/><circle cx="1052.5" cy="258.3" r="0.61" fill="#aaaaaa"/><circle cx="1070.1" cy="256.9" r="0.58" fill="#8a8a8a"/><circle cx="1028.8" cy="246.2" r="0.75" fill="#9a9a9a"/><circle cx="1066.8" cy="248.5" r="0.60" fill="#9a9a9a"/><circle cx="988.3" cy="236.2" r="0.43" fill="#b8b8b8"/><circle cx="1021.0" cy="244.5" r="0.71" fill="#b8b8b8"/><circle cx="1084.1" cy="260.3" r="0.75" fill="#8a8a8a"/><circle cx="1011.1" cy="232.2" r="0.72" fill="#8a8a8a"/><circle cx="1022.8" cy="252.9" r="0.71" fill="#8a8a8a"/><circle cx="1014.5" cy="649.3" r="0.72" fill="#9a9a9a"/><circle cx="1010.7" cy="644.1" r="0.72" fill="#9a9a9a"/><circle cx="984.2" cy="653.5" r="0.44" fill="#8a8a8a"/><circle cx="1053.3" cy="666.0" r="0.77" fill="#9a9a9a"/><circle cx="1040.0" cy="662.4" r="0.73" fill="#8a8a8a"/><circle cx="1069.7" cy="660.0" r="0.57" fill="#b8b8b8"/><circle cx="1061.7" cy="678.2" r="0.41" fill="#b8b8b8"/><circle cx="1044.8" cy="661.6" r="0.76" fill="#8a8a8a"/><circle cx="1014.8" cy="664.9" r="0.44" fill="#9a9a9a"/><circle cx="1071.9" cy="693.5" r="0.61" fill="#aaaaaa"/><circle cx="956.8" cy="641.9" r="0.75" fill="#9a9a9a"/><circle cx="1088.6" cy="691.0" r="0.62" fill="#b8b8b8"/><circle cx="939.5" cy="619.2" r="0.55" fill="#aaaaaa"/><circle cx="981.5" cy="640.7" r="0.68" fill="#aaaaaa"/><circle cx="1025.4" cy="661.6" r="0.66" fill="#9a9a9a"/><circle cx="959.7" cy="638.2" r="0.68" fill="#9a9a9a"/><circle cx="968.6" cy="627.7" r="0.71" fill="#9a9a9a"/><circle cx="976.5" cy="646.7" r="0.68" fill="#b8b8b8"/><circle cx="964.8" cy="627.9" r="0.42" fill="#aaaaaa"/><circle cx="1024.2" cy="650.6" r="0.45" fill="#aaaaaa"/><circle cx="1003.4" cy="628.1" r="0.64" fill="#aaaaaa"/><circle cx="949.5" cy="640.2" r="0.52" fill="#8a8a8a"/><circle cx="1008.5" cy="659.4" r="0.80" fill="#9a9a9a"/><circle cx="1077.7" cy="677.6" r="0.69" fill="#aaaaaa"/><circle cx="1001.1" cy="658.5" r="0.75" fill="#b8b8b8"/><circle cx="1072.2" cy="683.5" r="0.48" fill="#8a8a8a"/><circle cx="1046.6" cy="664.0" r="0.65" fill="#b8b8b8"/><circle cx="969.8" cy="642.3" r="0.55" fill="#b8b8b8"/><circle cx="989.4" cy="633.4" r="0.51" fill="#9a9a9a"/><circle cx="1041.8" cy="666.1" r="0.60" fill="#8a8a8a"/><circle cx="1030.9" cy="673.1" r="0.54" fill="#b8b8b8"/><circle cx="953.6" cy="608.4" r="0.49" fill="#8a8a8a"/><circle cx="1066.1" cy="682.2" r="0.51" fill="#aaaaaa"/><circle cx="1055.3" cy="677.9" r="0.78" fill="#8a8a8a"/><circle cx="1026.1" cy="651.9" r="0.67" fill="#b8b8b8"/><circle cx="1050.7" cy="696.7" r="0.49" fill="#b8b8b8"/><circle cx="1004.4" cy="650.0" r="0.56" fill="#b8b8b8"/><circle cx="1060.9" cy="690.3" r="0.64" fill="#b8b8b8"/><circle cx="1030.2" cy="674.3" r="0.66" fill="#aaaaaa"/><circle cx="981.2" cy="648.8" r="0.57" fill="#aaaaaa"/><circle cx="958.0" cy="648.0" r="0.63" fill="#aaaaaa"/><circle cx="987.4" cy="644.2" r="0.52" fill="#8a8a8a"/><circle cx="954.6" cy="656.6" r="0.67" fill="#9a9a9a"/><circle cx="1054.7" cy="677.7" r="0.41" fill="#aaaaaa"/><circle cx="989.9" cy="642.7" r="0.45" fill="#aaaaaa"/><circle cx="1016.7" cy="662.0" r="0.56" fill="#aaaaaa"/><circle cx="1082.2" cy="683.2" r="0.54" fill="#8a8a8a"/><circle cx="1022.3" cy="674.1" r="0.62" fill="#8a8a8a"/><circle cx="1011.2" cy="668.4" r="0.58" fill="#9a9a9a"/><circle cx="988.8" cy="644.1" r="0.44" fill="#aaaaaa"/><circle cx="966.3" cy="629.5" r="0.41" fill="#8a8a8a"/><circle cx="1048.6" cy="680.5" r="0.69" fill="#aaaaaa"/><circle cx="989.7" cy="642.8" r="0.80" fill="#8a8a8a"/><circle cx="979.7" cy="642.2" r="0.67" fill="#9a9a9a"/><circle cx="1046.1" cy="679.8" r="0.59" fill="#aaaaaa"/><circle cx="1051.4" cy="677.1" r="0.47" fill="#aaaaaa"/><circle cx="976.3" cy="643.9" r="0.59" fill="#8a8a8a"/><circle cx="1029.3" cy="661.0" r="0.79" fill="#8a8a8a"/><circle cx="976.7" cy="651.7" r="0.80" fill="#b8b8b8"/><circle cx="1054.2" cy="666.3" r="0.57" fill="#9a9a9a"/><circle cx="984.0" cy="647.4" r="0.66" fill="#8a8a8a"/><circle cx="982.1" cy="625.2" r="0.80" fill="#8a8a8a"/><circle cx="1038.8" cy="665.2" r="0.80" fill="#b8b8b8"/><circle cx="935.5" cy="633.9" r="0.72" fill="#9a9a9a"/><circle cx="1043.3" cy="673.1" r="0.61" fill="#9a9a9a"/><circle cx="1018.5" cy="640.7" r="0.60" fill="#9a9a9a"/><circle cx="1040.5" cy="678.5" r="0.61" fill="#8a8a8a"/><circle cx="1052.2" cy="681.0" r="0.70" fill="#8a8a8a"/><circle cx="1026.0" cy="669.3" r="0.40" fill="#aaaaaa"/><circle cx="1052.9" cy="687.6" r="0.67" fill="#b8b8b8"/><circle cx="1069.5" cy="701.2" r="0.71" fill="#8a8a8a"/><circle cx="1029.9" cy="669.6" r="0.57" fill="#9a9a9a"/><circle cx="952.3" cy="634.0" r="0.41" fill="#aaaaaa"/><circle cx="999.8" cy="642.5" r="0.78" fill="#8a8a8a"/><circle cx="1035.5" cy="673.3" r="0.44" fill="#b8b8b8"/><circle cx="975.5" cy="627.0" r="0.61" fill="#8a8a8a"/><circle cx="1006.9" cy="658.7" r="0.71" fill="#8a8a8a"/><circle cx="1096.8" cy="683.2" r="0.52" fill="#8a8a8a"/><circle cx="1045.6" cy="676.6" r="0.43" fill="#9a9a9a"/><circle cx="989.9" cy="639.5" r="0.45" fill="#8a8a8a"/><circle cx="1025.3" cy="656.9" r="0.60" fill="#aaaaaa"/><circle cx="1020.3" cy="661.7" r="0.52" fill="#9a9a9a"/><circle cx="1003.0" cy="634.9" r="0.50" fill="#b8b8b8"/><circle cx="1023.7" cy="681.2" r="0.59" fill="#9a9a9a"/><circle cx="1027.5" cy="681.7" r="0.64" fill="#9a9a9a"/><circle cx="1063.2" cy="677.9" r="0.62" fill="#b8b8b8"/><circle cx="1015.4" cy="662.8" r="0.46" fill="#8a8a8a"/><circle cx="1028.7" cy="672.3" r="0.72" fill="#9a9a9a"/><circle cx="963.8" cy="638.6" r="0.46" fill="#9a9a9a"/><circle cx="1150.5" cy="572.1" r="0.56" fill="#8a8a8a"/><circle cx="1111.6" cy="524.8" r="0.57" fill="#8a8a8a"/><circle cx="1106.0" cy="560.3" r="0.49" fill="#8a8a8a"/><circle cx="1137.7" cy="561.6" r="0.69" fill="#b8b8b8"/><circle cx="1144.3" cy="555.8" r="0.46" fill="#8a8a8a"/><circle cx="1138.4" cy="591.8" r="0.56" fill="#b8b8b8"/><circle cx="1139.6" cy="558.2" r="0.52" fill="#8a8a8a"/><circle cx="1100.7" cy="566.1" r="0.56" fill="#aaaaaa"/><circle cx="1127.2" cy="546.2" r="0.43" fill="#aaaaaa"/><circle cx="1150.7" cy="581.9" r="0.61" fill="#b8b8b8"/><circle cx="1136.0" cy="588.0" r="0.53" fill="#b8b8b8"/><circle cx="1099.5" cy="526.5" r="0.48" fill="#9a9a9a"/><circle cx="1119.6" cy="559.1" r="0.63" fill="#8a8a8a"/><circle cx="1128.4" cy="573.2" r="0.56" fill="#aaaaaa"/><circle cx="1101.0" cy="544.3" r="0.51" fill="#aaaaaa"/><circle cx="1116.7" cy="510.9" r="0.49" fill="#8a8a8a"/><circle cx="1143.3" cy="566.0" r="0.57" fill="#b8b8b8"/><circle cx="1148.9" cy="595.2" r="0.55" fill="#b8b8b8"/><circle cx="1132.0" cy="561.3" r="0.53" fill="#8a8a8a"/><circle cx="1155.0" cy="588.6" r="0.42" fill="#8a8a8a"/><circle cx="1165.3" cy="595.9" r="0.47" fill="#b8b8b8"/><circle cx="1105.5" cy="542.7" r="0.62" fill="#b8b8b8"/><circle cx="1157.0" cy="584.4" r="0.73" fill="#8a8a8a"/><circle cx="1108.6" cy="544.2" r="0.69" fill="#8a8a8a"/><circle cx="1095.6" cy="514.0" r="0.53" fill="#b8b8b8"/><circle cx="1152.6" cy="549.4" r="0.78" fill="#b8b8b8"/><circle cx="1123.2" cy="561.0" r="0.69" fill="#aaaaaa"/><circle cx="1160.5" cy="590.6" r="0.56" fill="#8a8a8a"/><circle cx="1139.6" cy="592.7" r="0.40" fill="#aaaaaa"/><circle cx="1126.5" cy="513.4" r="0.78" fill="#aaaaaa"/><circle cx="1094.9" cy="528.7" r="0.79" fill="#aaaaaa"/><circle cx="1156.4" cy="590.9" r="0.74" fill="#9a9a9a"/><circle cx="1129.5" cy="591.0" r="0.64" fill="#8a8a8a"/><circle cx="1148.7" cy="585.1" r="0.53" fill="#b8b8b8"/><circle cx="1149.2" cy="571.2" r="0.45" fill="#aaaaaa"/><circle cx="1092.6" cy="527.8" r="0.42" fill="#8a8a8a"/><circle cx="1140.8" cy="579.7" r="0.49" fill="#aaaaaa"/><circle cx="1091.8" cy="524.1" r="0.72" fill="#b8b8b8"/><circle cx="1099.8" cy="533.9" r="0.66" fill="#aaaaaa"/><circle cx="1130.6" cy="571.2" r="0.56" fill="#aaaaaa"/><circle cx="1149.7" cy="588.7" r="0.63" fill="#8a8a8a"/><circle cx="1161.9" cy="580.4" r="0.43" fill="#9a9a9a"/><circle cx="1103.5" cy="550.9" r="0.73" fill="#aaaaaa"/><circle cx="1080.4" cy="515.4" r="0.41" fill="#9a9a9a"/><circle cx="1105.5" cy="533.4" r="0.73" fill="#aaaaaa"/><circle cx="1106.7" cy="533.8" r="0.66" fill="#8a8a8a"/><circle cx="1098.6" cy="537.3" r="0.80" fill="#b8b8b8"/><circle cx="1155.4" cy="591.1" r="0.42" fill="#8a8a8a"/><circle cx="1119.7" cy="547.1" r="0.62" fill="#aaaaaa"/><circle cx="1147.1" cy="594.0" r="0.66" fill="#8a8a8a"/><circle cx="1220.7" cy="263.3" r="0.65" fill="#9a9a9a"/><circle cx="1245.9" cy="271.4" r="0.63" fill="#8a8a8a"/><circle cx="1245.1" cy="250.7" r="0.73" fill="#b8b8b8"/><circle cx="1241.0" cy="265.4" r="0.57" fill="#8a8a8a"/><circle cx="1265.2" cy="315.5" r="0.47" fill="#8a8a8a"/><circle cx="1172.9" cy="238.2" r="0.58" fill="#9a9a9a"/><circle cx="1255.6" cy="293.7" r="0.55" fill="#b8b8b8"/><circle cx="1231.3" cy="279.1" r="0.67" fill="#8a8a8a"/><circle cx="1253.7" cy="268.4" r="0.58" fill="#8a8a8a"/><circle cx="1209.3" cy="282.2" r="0.73" fill="#aaaaaa"/><circle cx="1202.5" cy="225.3" r="0.67" fill="#8a8a8a"/><circle cx="1207.4" cy="269.7" r="0.68" fill="#b8b8b8"/><circle cx="1209.7" cy="229.7" r="0.52" fill="#8a8a8a"/><circle cx="1239.4" cy="311.6" r="0.77" fill="#9a9a9a"/><circle cx="1253.1" cy="309.6" r="0.44" fill="#aaaaaa"/><circle cx="1228.2" cy="243.2" r="0.61" fill="#8a8a8a"/><circle cx="1222.3" cy="279.3" r="0.46" fill="#aaaaaa"/><circle cx="1266.5" cy="288.3" r="0.59" fill="#8a8a8a"/><circle cx="1199.2" cy="229.4" r="0.76" fill="#b8b8b8"/><circle cx="1260.8" cy="271.4" r="0.48" fill="#b8b8b8"/><circle cx="1174.1" cy="214.0" r="0.60" fill="#b8b8b8"/><circle cx="1209.2" cy="227.5" r="0.60" fill="#b8b8b8"/><circle cx="1230.7" cy="228.6" r="0.44" fill="#9a9a9a"/><circle cx="1165.5" cy="224.3" r="0.71" fill="#aaaaaa"/><circle cx="1190.8" cy="230.3" r="0.48" fill="#aaaaaa"/><circle cx="1183.9" cy="224.7" r="0.73" fill="#aaaaaa"/><circle cx="1225.8" cy="256.6" r="0.55" fill="#b8b8b8"/><circle cx="1272.4" cy="310.0" r="0.58" fill="#b8b8b8"/><circle cx="1204.0" cy="245.1" r="0.54" fill="#9a9a9a"/><circle cx="1160.5" cy="238.1" r="0.59" fill="#b8b8b8"/></svg>
<svg width="1280" height="721" viewBox="0 0 1280 721">
<rect x="965" y="122" width="5" height="336" fill="#000"/>
<circle cx="967.5" cy="122.6" r="12.2" fill="#7f7f7f"/>
<circle cx="967.5" cy="272.8" r="12.2" fill="#ee3322"/>
<circle cx="968.4" cy="458.2" r="12" fill="#7f7f7f"/>
</svg>
<div class="a" style="top:111.34px;font:bold 23px/23px 'Liberation Sans',sans-serif;color:#0d0d0d;letter-spacing:0.039999999999999994px;left:996.00px;">67% из всего объема</div>
<div class="a" style="top:139.54px;font:bold 23px/23px 'Liberation Sans',sans-serif;color:#0d0d0d;letter-spacing:0.04999999999999999px;left:996.00px;">строящегося жилья в</div>
<div class="a" style="top:167.74px;font:bold 23px/23px 'Liberation Sans',sans-serif;color:#0d0d0d;letter-spacing:-0.17px;left:996.00px;">РФ - это квартиры</div>
<div class="a" style="top:195.94px;font:bold 23px/23px 'Liberation Sans',sans-serif;color:#0d0d0d;letter-spacing:0.38px;left:996.00px;">площадью до 55 кв.м</div>
<div class="a" style="top:266.94px;font:bold 23px/23px 'Liberation Sans',sans-serif;color:#0d0d0d;letter-spacing:0.58px;left:996.00px;">Уменьшение</div>
<div class="a" style="top:295.14px;font:bold 23px/23px 'Liberation Sans',sans-serif;color:#0d0d0d;letter-spacing:0.15px;left:996.00px;">двухкомнатных</div>
<div class="a" style="top:323.34px;font:bold 23px/23px 'Liberation Sans',sans-serif;color:#0d0d0d;letter-spacing:0.15px;left:996.00px;">«классических»</div>
<div class="a" style="top:351.54px;font:bold 23px/23px 'Liberation Sans',sans-serif;color:#0d0d0d;letter-spacing:0.15px;left:996.00px;">квартир и рост</div>
<div class="a" style="top:379.74px;font:bold 23px/23px 'Liberation Sans',sans-serif;color:#0d0d0d;letter-spacing:0.15px;left:996.00px;">евродвушек</div>
<div class="a" style="top:446.84px;font:bold 23px/23px 'Liberation Sans',sans-serif;color:#0d0d0d;letter-spacing:0.009999999999999981px;left:996.00px;">Квартиры больших</div>
<div class="a" style="top:475.04px;font:bold 23px/23px 'Liberation Sans',sans-serif;color:#0d0d0d;letter-spacing:0.15px;left:996.00px;">размеров ни по</div>
<div class="a" style="top:503.24px;font:bold 23px/23px 'Liberation Sans',sans-serif;color:#0d0d0d;letter-spacing:0.15px;left:996.00px;">количеству, ни по</div>
<div class="a" style="top:531.44px;font:bold 23px/23px 'Liberation Sans',sans-serif;color:#0d0d0d;letter-spacing:0.15px;left:996.00px;">площади не</div>
<div class="a" style="top:559.64px;font:bold 23px/23px 'Liberation Sans',sans-serif;color:#0d0d0d;letter-spacing:0.15px;left:996.00px;">прирастают уже 3,5</div>
<div class="a" style="top:587.84px;font:bold 23px/23px 'Liberation Sans',sans-serif;color:#0d0d0d;letter-spacing:0.15px;left:996.00px;">года подряд</div>
<div class="a" style="top:660.02px;font:bold 11.8px/11.8px 'Liberation Sans',sans-serif;color:#1e1e1e;letter-spacing:0.16px;left:1119.00px;">Источник – ЕИСЖС,</div>
<div class="a" style="top:677.52px;font:bold 11.8px/11.8px 'Liberation Sans',sans-serif;color:#1e1e1e;letter-spacing:0.36px;left:1119.00px;">отчет на 08.12.2025</div>
</body>
</html>
